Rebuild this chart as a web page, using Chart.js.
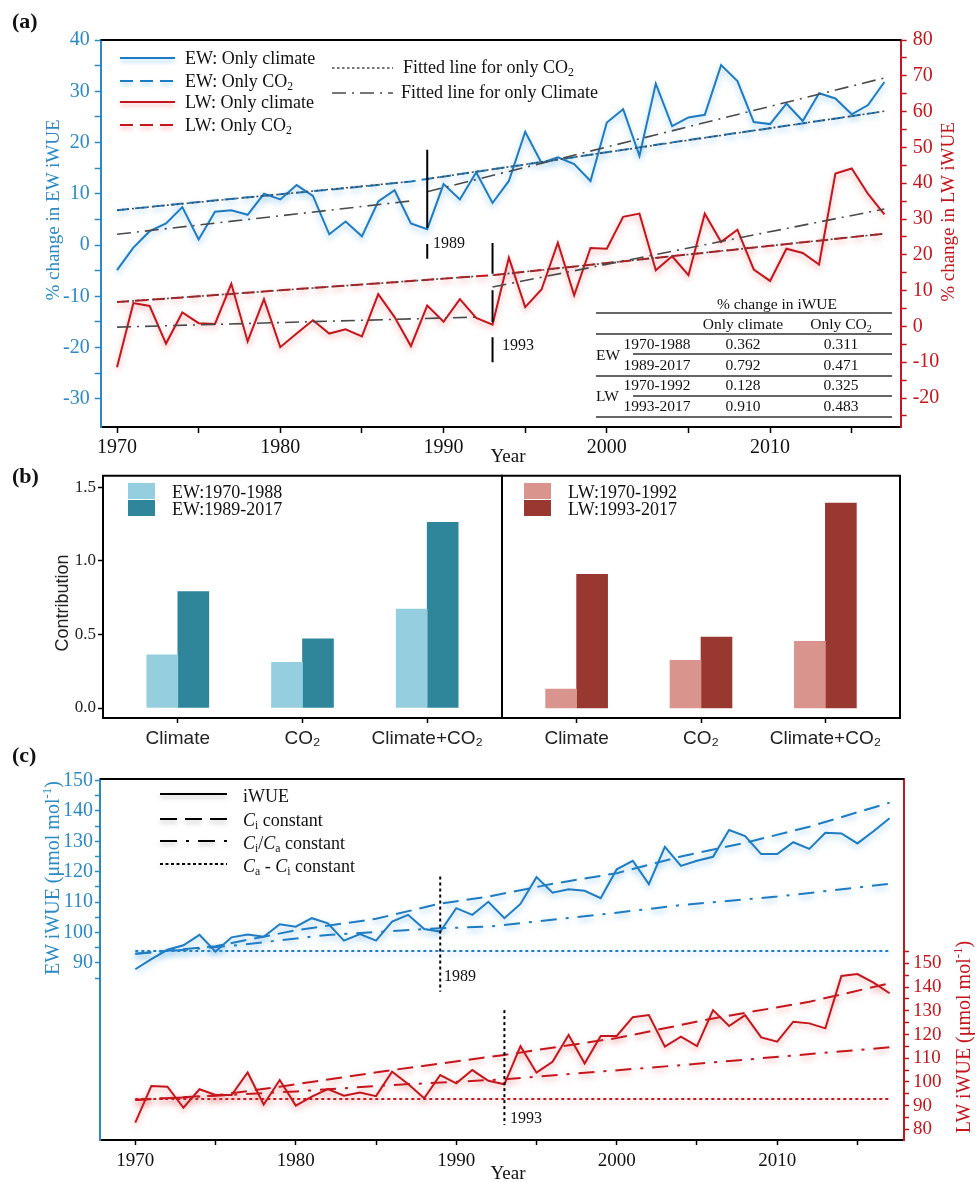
<!DOCTYPE html>
<html>
<head>
<meta charset="utf-8">
<script src="https://cdn.jsdelivr.net/npm/chart.js@4.4.0/dist/chart.umd.min.js"></script>
<style>
  body { margin: 0; background: #fff; }
  #page { position: relative; width: 979px; height: 1182px; overflow: hidden; font-family: "Liberation Serif", serif; color: #111; }
  canvas { position: absolute; }
  .t { position: absolute; white-space: nowrap; line-height: 1.15; }
  sub { font-size: .65em; vertical-align: -.25em; line-height: 0; }
  sup { font-size: .65em; vertical-align: .55em; line-height: 0; }
  .key { position: absolute; width: 27px; height: 16px; }
</style>
</head>
<body>
<div id="page">
  <canvas id="ca" width="979" height="470" style="left:0;top:0"></canvas>
  <canvas id="cb1" width="512" height="300" style="left:0;top:460px"></canvas>
  <canvas id="cb2" width="487" height="300" style="left:492px;top:460px"></canvas>
  <canvas id="cc" width="979" height="422" style="left:0;top:760px"></canvas>
</div>
<script>
// ---- data: panel (a) ----
const years = [1970, 1971, 1972, 1973, 1974, 1975, 1976, 1977, 1978, 1979,
  1980, 1981, 1982, 1983, 1984, 1985, 1986, 1987, 1988, 1989,
  1990, 1991, 1992, 1993, 1994, 1995, 1996, 1997, 1998, 1999,
  2000, 2001, 2002, 2003, 2004, 2005, 2006, 2007, 2008, 2009,
  2010, 2011, 2012, 2013, 2014, 2015, 2016, 2017];

const ewClimate = [-4.9, -0.5, 2.7, 4.2, 7.4, 1.1, 6.5, 6.8, 5.9, 10.0,
  8.9, 11.7, 9.6, 2.1, 4.6, 1.7, 8.5, 10.7, 4.2, 3.1,
  11.9, 8.9, 14.2, 8.2, 12.5, 22.1, 16.0, 17.1, 15.8, 12.5,
  23.9, 26.5, 17.4, 31.5, 23.2, 24.9, 25.4, 35.1, 32.0, 24.0,
  23.6, 27.6, 24.2, 29.6, 28.6, 25.5, 27.3, 31.8];

const lwClimate = [-11.4, 6.5, 5.7, -4.8, 3.9, 0.9, 0.7, 11.9, -4.2, 7.6,
  -5.8, -2.0, 1.7, -2.0, -0.8, -2.8, 9.0, 2.6, -5.5, 5.8,
  1.3, 7.6, 2.4, 0.5, 19.2, 5.4, 10.3, 23.4, 8.7, 21.9,
  21.7, 30.6, 31.5, 15.7, 19.6, 14.3, 31.5, 23.6, 27.0, 15.9,
  12.7, 21.7, 20.5, 17.3, 42.7, 44.1, 37.0, 31.3];

const ewCO2Years = [1970, 1975, 1980, 1985, 1988, 1989, 1995, 2000, 2005, 2010, 2017];
const ewCO2 = [6.8, 8.4, 9.9, 11.4, 12.4, 12.9, 15.7, 18.1, 20.5, 22.8, 26.1];
const lwCO2Years = [1970, 1975, 1980, 1985, 1992, 1993, 2000, 2005, 2010, 2017];
const lwCO2 = [6.8, 8.4, 10.1, 11.7, 14.0, 14.3, 17.7, 20.1, 22.5, 25.9];

// fitted segments: [start, end] of each period
const ewFitYears = [1970, 1988, 1989, 2017];
const ewClimFit = [2.1, 8.6, 10.4, 32.6];
const ewCO2Fit = [6.8, 12.4, 12.9, 26.1];
const lwFitYears = [1970, 1992, 1993, 2017];
const lwClimFit = [-0.2, 2.6, 11.0, 32.8];
const lwCO2Fit = [6.8, 14.0, 14.3, 25.9];

const aYearTicks = [1970, 1975, 1980, 1985, 1990, 1995, 2000, 2005, 2010, 2015];
const aLeftTicks = [-30, -25, -20, -15, -10, -5, 0, 5, 10, 15, 20, 25, 30, 35, 40];
const aRightTicks = [-25, -20, -15, -10, -5, 0, 5, 10, 15, 20, 25, 30, 35, 40, 45, 50, 55, 60, 65, 70, 75, 80];

// table in (a)
const tblGroups = ['EW', 'LW'];
const tblPeriods = ['1970-1988', '1989-2017', '1970-1992', '1993-2017'];
const tblClimate = [0.362, 0.792, 0.128, 0.910];
const tblCO2 = [0.311, 0.471, 0.325, 0.483];

// ---- data: panel (b) ----
const barCats = ['Climate', 'CO\u2082', 'Climate+CO\u2082'];
const ewEarly = [0.362, 0.311, 0.673];
const ewLate = [0.792, 0.471, 1.263];
const lwEarly = [0.128, 0.325, 0.453];
const lwLate = [0.910, 0.483, 1.393];
const bTicks = [0, 0.5, 1.0, 1.5];

// ---- data: panel (c) ----
const ewIWUE = [87.9, 91.2, 94.3, 95.8, 99.2, 93.7, 98.4, 99.3, 98.6, 102.7,
  101.9, 104.7, 103.0, 97.3, 99.5, 97.3, 103.6, 105.8, 101.1, 100.3,
  108.0, 105.8, 110.1, 104.7, 109.4, 118.2, 113.1, 114.2, 113.7, 111.3,
  120.8, 123.6, 115.9, 128.2, 121.9, 123.6, 124.9, 133.7, 131.7, 125.8,
  125.8, 129.7, 127.5, 132.8, 132.6, 129.3, 133.3, 137.6];
const lwIWUE = [82.8, 98.3, 98.0, 89.1, 96.9, 94.5, 94.5, 104.0, 90.5, 100.8,
  90.0, 93.8, 97.0, 94.2, 95.5, 94.0, 104.3, 99.1, 93.1, 102.9,
  99.4, 105.0, 100.5, 99.0, 115.1, 103.9, 108.5, 119.8, 107.8, 119.4,
  119.4, 127.3, 128.2, 114.9, 119.1, 115.1, 130.3, 123.6, 128.2, 118.8,
  117.0, 125.4, 124.7, 122.6, 144.7, 145.5, 141.9, 137.4];

const ewCiYears = [1970, 1975, 1980, 1985, 1989, 1992, 1996, 2000, 2004, 2008, 2012, 2017];
const ewCi = [93.0, 95.5, 100.7, 104.5, 109.5, 111.8, 116.0, 119.5, 125.0, 129.5, 134.8, 142.7];
const ewCiCaYears = [1970, 1976, 1982, 1989, 1992, 2000, 2004, 2010, 2017];
const ewCiCa = [93.0, 95.6, 99.2, 101.4, 101.9, 106.5, 109.0, 111.8, 116.0];
const ewCaCiYears = [1970, 2017];
const ewCaCi = [93.9, 93.9];

const lwCiYears = [1970, 1975, 1979, 1986, 1993, 2000, 2006, 2012, 2017];
const lwCi = [92.4, 94.3, 98.0, 105.0, 111.4, 118.5, 126.8, 133.8, 141.6];
const lwCiCaYears = [1970, 1980, 1986, 1993, 2004, 2017];
const lwCiCa = [92.4, 96.0, 98.7, 101.1, 107.1, 114.6];
const lwCaCiYears = [1970, 2017];
const lwCaCi = [92.8, 92.8];

const cYearTicks = [1970, 1975, 1980, 1985, 1990, 1995, 2000, 2005, 2010, 2015];
const cLeftTicks = [85, 90, 95, 100, 105, 110, 115, 120, 125, 130, 135, 140, 145, 150];
const cRightTicks = [80, 85, 90, 95, 100, 105, 110, 115, 120, 125, 130, 135, 140, 145, 150, 155];

// ---- colours ----
const blue = '#1f7cc2', red = '#c4161c', axBlue = '#2b8ac6', gray = '#4a4a4a';
const glowB = 'rgba(70,160,225,0.55)', glowR = 'rgba(230,80,80,0.5)';

Chart.defaults.animation = false;
Chart.defaults.plugins.legend.display = false;
Chart.defaults.plugins.tooltip.enabled = false;

const frame = {
  id: 'frame',
  afterDraw(chart, args, opts) {
    const { ctx, chartArea: a } = chart;
    ctx.save();
    ctx.strokeStyle = '#000';
    ctx.lineWidth = 2;
    ctx.beginPath();
    if (opts.box) ctx.rect(a.left, a.top, a.right - a.left, a.bottom - a.top);
    else { ctx.moveTo(a.left, a.top); ctx.lineTo(a.right, a.top); }
    ctx.stroke();
    ctx.restore();
  }
};
const glow = {
  id: 'glow',
  beforeDatasetDraw(chart, args) {
    const ctx = chart.ctx;
    ctx.save();
    const c = chart.data.datasets[args.index].glow;
    if (c) { ctx.shadowColor = c; ctx.shadowBlur = 6; ctx.shadowOffsetY = 3; }
  },
  afterDatasetDraw(chart) { chart.ctx.restore(); }
};
Chart.register(frame, glow);

function pts(xs, ys) { return xs.map((x, i) => ({ x: x, y: ys[i] })); }
function segs(xs, ys) {
  return [{ x: xs[0], y: ys[0] }, { x: xs[1], y: ys[1] }, { x: xs[1], y: null },
          { x: xs[2], y: ys[2] }, { x: xs[3], y: ys[3] }];
}
function vline(x, spans) {
  const out = [];
  spans.forEach((s, i) => {
    if (i) out.push({ x: x, y: null });
    out.push({ x: x, y: s[0] }, { x: x, y: s[1] });
  });
  return out;
}
function line(data, color, o = {}) {
  return Object.assign({ data: data, borderColor: color, borderWidth: 2, pointRadius: 0,
    tension: 0, fill: false, spanGaps: false, yAxisID: 'y' }, o);
}
function axis(o) {
  return {
    type: 'linear', min: o.min, max: o.max, position: o.pos, display: o.display !== false,
    offset: false,
    border: { display: true, color: o.color, width: 2 },
    grid: { display: true, drawOnChartArea: false, drawTicks: true, offset: false,
            tickLength: o.tl || 6, tickColor: o.color, tickWidth: 1.5 },
    ticks: { color: o.tcolor || o.color, font: { family: o.font || 'Liberation Serif', size: o.size || 20 },
             padding: o.pad, autoSkip: false, maxRotation: 0, callback: o.cb },
    afterBuildTicks: s => { s.ticks = o.ticks.map(v => ({ value: v })); },
    afterFit: s => { if (o.w != null) s.width = o.w; if (o.h != null) s.height = o.h; }
  };
}
const every10 = v => (Math.round(v) % 10 === 0 ? String(v) : '');

// ---- panel (a) ----
new Chart(document.getElementById('ca'), {
  type: 'line',
  data: {
    datasets: [
      line(vline(1989, [[18.6, 3.3], [0.2, -2.7]]), '#000', { order: 0 }),
      line(vline(1993, [[23.3, 14.7], [10.1, 1.2], [-3.0, -10.0]]), '#000', { order: 0, yAxisID: 'y2' }),
      line(segs(ewFitYears, ewCO2Fit), gray, { order: 1, borderWidth: 1.6, borderDash: [2, 3] }),
      line(segs(ewFitYears, ewClimFit), gray, { order: 1, borderWidth: 1.6, borderDash: [14, 6, 2, 6] }),
      line(segs(lwFitYears, lwCO2Fit), gray, { order: 1, borderWidth: 1.6, borderDash: [2, 3], yAxisID: 'y2' }),
      line(segs(lwFitYears, lwClimFit), gray, { order: 1, borderWidth: 1.6, borderDash: [14, 6, 2, 6], yAxisID: 'y2' }),
      line(pts(years, ewClimate), blue, { order: 2, glow: glowB }),
      line(pts(years, lwClimate), red, { order: 2, glow: glowR, yAxisID: 'y2' }),
      line(pts(ewCO2Years, ewCO2), blue, { order: 3, glow: glowB, borderDash: [12, 6] }),
      line(pts(lwCO2Years, lwCO2), red, { order: 3, glow: glowR, borderDash: [12, 6], yAxisID: 'y2' })
    ]
  },
  options: {
    responsive: false, devicePixelRatio: 1,
    layout: { padding: { top: 40, left: 0, right: 0, bottom: 0 } },
    plugins: { frame: {} },
    scales: {
      x: axis({ min: 1969, max: 2018, pos: 'bottom', color: '#000', tcolor: '#111', ticks: aYearTicks,
                cb: every10, pad: 3, h: 43, size: 20 }),
      y: axis({ min: -35.5, max: 40, pos: 'left', color: axBlue, ticks: aLeftTicks, cb: every10, pad: 5, w: 100.7 }),
      y2: axis({ min: -28.1, max: 80, pos: 'right', color: red, ticks: aRightTicks, cb: every10, pad: 6, w: 78.3 })
    }
  }
});

// ---- panel (b) ----
function barChart(id, early, late, cLight, cDark, showY, padL, padR) {
  return new Chart(document.getElementById(id), {
    type: 'bar',
    data: {
      datasets: [
        { data: pts([1, 2, 3], early), backgroundColor: cLight, barThickness: 31, borderWidth: 0 },
        { data: pts([1, 2, 3], late), backgroundColor: cDark, barThickness: 31, borderWidth: 0 }
      ]
    },
    options: {
      responsive: false, devicePixelRatio: 1,
      layout: { padding: { top: 15.7, left: padL, right: padR, bottom: 0 } },
      plugins: { frame: { box: true } },
      scales: {
        x: axis({ min: 0.4, max: 3.6, pos: 'bottom', color: '#000', tcolor: '#222', ticks: [1, 2, 3],
                  cb: v => barCats[Math.round(v) - 1], pad: 4, h: 42, tl: 5,
                  font: 'Liberation Sans', size: 19 }),
        y: axis({ min: -0.068, max: 1.58, pos: 'left', display: showY, color: '#000', tcolor: '#222',
                  ticks: bTicks, cb: v => v.toFixed(1), pad: 2, w: showY ? 103 : null, tl: 5, size: 17 })
      }
    }
  });
}
barChart('cb1', ewEarly, ewLate, '#95cfdf', '#2f869b', true, 0, 10);
barChart('cb2', lwEarly, lwLate, '#d9948e', '#983830', false, 10, 79);

// ---- panel (c) ----
new Chart(document.getElementById('cc'), {
  type: 'line',
  data: {
    datasets: [
      line(vline(1989, [[118.4, 80.5]]), '#000', { order: 0, borderDash: [3, 3] }),
      line(vline(1993, [[130.3, 81.8]]), '#000', { order: 0, borderDash: [3, 3], yAxisID: 'y2' }),
      line(pts(years, ewIWUE), blue, { order: 1, glow: glowB }),
      line(pts(ewCiYears, ewCi), blue, { order: 2, glow: glowB, borderDash: [16, 8] }),
      line(pts(ewCiCaYears, ewCiCa), blue, { order: 2, glow: glowB, borderDash: [16, 9, 3, 9] }),
      line(pts(ewCaCiYears, ewCaCi), blue, { order: 2, glow: glowB, borderDash: [3, 3] }),
      line(pts(years, lwIWUE), red, { order: 1, glow: glowR, yAxisID: 'y2' }),
      line(pts(lwCiYears, lwCi), red, { order: 2, glow: glowR, borderDash: [16, 8], yAxisID: 'y2' }),
      line(pts(lwCiCaYears, lwCiCa), red, { order: 2, glow: glowR, borderDash: [16, 9, 3, 9], yAxisID: 'y2' }),
      line(pts(lwCaCiYears, lwCaCi), red, { order: 2, glow: glowR, borderDash: [3, 3], yAxisID: 'y2' })
    ]
  },
  options: {
    responsive: false, devicePixelRatio: 1,
    layout: { padding: { top: 19, left: 0, right: 0, bottom: 0 } },
    plugins: { frame: {} },
    scales: {
      x: axis({ min: 1967.8, max: 2017.9, pos: 'bottom', color: '#000', tcolor: '#111', ticks: cYearTicks,
                cb: every10, pad: 5, h: 42, tl: 5, size: 19 }),
      y: axis({ min: 31.7, max: 150.5, pos: 'left', color: axBlue, ticks: cLeftTicks, cb: every10, pad: 2, w: 100, tl: 5 }),
      y2: axis({ min: 75.5, max: 227.8, pos: 'right', color: red, ticks: cRightTicks, cb: every10, pad: 4, w: 75, tl: 5, size: 19 })
    }
  }
});

// ---- text, legends, table ----
const page = document.getElementById('page');
function label(html, x, y, o = {}) {
  const d = document.createElement('div');
  d.className = 't';
  d.innerHTML = html;
  d.style.left = x + 'px';
  d.style.top = y + 'px';
  d.style.fontSize = (o.size || 18) + 'px';
  if (o.color) d.style.color = o.color;
  if (o.font) d.style.fontFamily = o.font;
  if (o.bold) d.style.fontWeight = 'bold';
  const ax = o.align === 'c' || o.rot ? '-50%' : o.align === 'r' ? '-100%' : '0';
  d.style.transform = 'translate(' + ax + ',-50%)' + (o.rot ? ' rotate(' + o.rot + 'deg)' : '');
  page.appendChild(d);
}

let sv = '<svg width="979" height="1182" style="position:absolute;left:0;top:0;pointer-events:none">' +
  '<defs>' +
  '<filter id="gB" filterUnits="userSpaceOnUse" x="0" y="0" width="979" height="1182"><feDropShadow dx="0" dy="3" stdDeviation="2" flood-color="#5fb1ea" flood-opacity="0.55"/></filter>' +
  '<filter id="gR" filterUnits="userSpaceOnUse" x="0" y="0" width="979" height="1182"><feDropShadow dx="0" dy="3" stdDeviation="2" flood-color="#ec6a6a" flood-opacity="0.5"/></filter>' +
  '<filter id="gK" filterUnits="userSpaceOnUse" x="0" y="0" width="979" height="1182"><feDropShadow dx="0" dy="3" stdDeviation="2" flood-color="#8a8a8a" flood-opacity="0.5"/></filter>' +
  '</defs><g fill="none" stroke-width="2">';
function sample(x1, x2, y, color, dash, filt, w) {
  sv += '<line x1="' + x1 + '" y1="' + y + '" x2="' + x2 + '" y2="' + y + '" stroke="' + color + '"' +
    (dash ? ' stroke-dasharray="' + dash + '"' : '') + (filt ? ' filter="url(#' + filt + ')"' : '') +
    (w ? ' stroke-width="' + w + '"' : '') + '/>';
}
// legend (a)
sample(120, 175, 58, blue, '', 'gB');
sample(120, 175, 81, blue, '13 7', 'gB');
sample(120, 175, 102, red, '', 'gR');
sample(120, 175, 125, red, '13 7', 'gR');
sample(332, 393, 68, gray, '2.5 2.5', '', 1.6);
sample(332, 393, 93, gray, '14 6 2 6', '', 1.6);
// legend (c)
sample(160, 227, 794, '#000', '', 'gK');
sample(160, 227, 819, '#000', '17 8', 'gK');
sample(160, 227, 841, '#000', '17 9 3 9', 'gK');
sample(160, 227, 864, '#000', '3 2.5', 'gK');
// table rules
[[596, 313], [596, 334], [633, 354], [596, 376], [633, 396], [596, 417]].forEach(r => {
  sv += '<line x1="' + r[0] + '" y1="' + r[1] + '" x2="892" y2="' + r[1] + '" stroke="#333" stroke-width="1.5"/>';
});
sv += '</g></svg>';
page.insertAdjacentHTML('beforeend', sv);

// panel letters
label('(a)', 12, 21, { size: 22, bold: true });
label('(b)', 12, 476, { size: 22, bold: true });
label('(c)', 12, 755, { size: 22, bold: true });

// (a) legend text
label('EW: Only climate', 185, 58);
label('EW: Only CO<sub>2</sub>', 185, 81);
label('LW: Only climate', 185, 102);
label('LW: Only CO<sub>2</sub>', 185, 125);
label('Fitted line for only CO<sub>2</sub>', 403, 67);
label('Fitted line for only Climate', 401, 92);
label('1989', 433, 243, { size: 16 });
label('1993', 502, 345, { size: 16 });
label('Year', 508, 456, { size: 19, align: 'c' });
label('% change in EW iWUE', 53, 210, { size: 19, color: axBlue, rot: -90 });
label('% change in LW iWUE', 948, 212, { size: 19, color: red, rot: -90 });

// (a) table
label('% change in iWUE', 777, 304, { size: 15.5, align: 'c' });
label('Only climate', 743, 324, { size: 15.5, align: 'c' });
label('Only CO<sub>2</sub>', 841, 324, { size: 15.5, align: 'c' });
const rowY = [344, 365, 385, 406];
tblGroups.forEach((g, i) => label(g, 596, i ? 396 : 355, { size: 15.5 }));
tblPeriods.forEach((p, i) => {
  label(p, 657, rowY[i], { size: 15.5, align: 'c' });
  label(tblClimate[i].toFixed(3), 743, rowY[i], { size: 15.5, align: 'c' });
  label(tblCO2[i].toFixed(3), 841, rowY[i], { size: 15.5, align: 'c' });
});

// (b) legends and title
[['#95cfdf', 'EW:1970-1988', 128, 483], ['#2f869b', 'EW:1989-2017', 128, 500],
 ['#d9948e', 'LW:1970-1992', 524, 483], ['#983830', 'LW:1993-2017', 524, 500]].forEach(k => {
  const d = document.createElement('div');
  d.className = 'key';
  d.style.left = k[2] + 'px';
  d.style.top = k[3] + 'px';
  d.style.background = k[0];
  page.appendChild(d);
  label(k[1], k[2] + 44, k[3] + 9, { size: 18 });
});
label('Contribution', 62, 603, { size: 18, font: '"Liberation Sans", sans-serif', color: '#222', rot: -90 });

// (c) legend and labels
label('iWUE', 243, 796);
label('<i>C</i><sub>i</sub> constant', 243, 820);
label('<i>C</i><sub>i</sub>/<i>C</i><sub>a</sub> constant', 243, 843);
label('<i>C</i><sub>a</sub> - <i>C</i><sub>i</sub> constant', 243, 866);
label('1989', 444, 976, { size: 16 });
label('1993', 510, 1118, { size: 16 });
label('Year', 508, 1173, { size: 19, align: 'c' });
label('EW iWUE (\u03bcmol mol<sup>-1</sup>)', 52, 878, { size: 20, color: axBlue, rot: -90 });
label('LW iWUE (\u03bcmol mol<sup>-1</sup>)', 963, 1037, { size: 20, color: red, rot: -90 });
</script>
</body>
</html>
